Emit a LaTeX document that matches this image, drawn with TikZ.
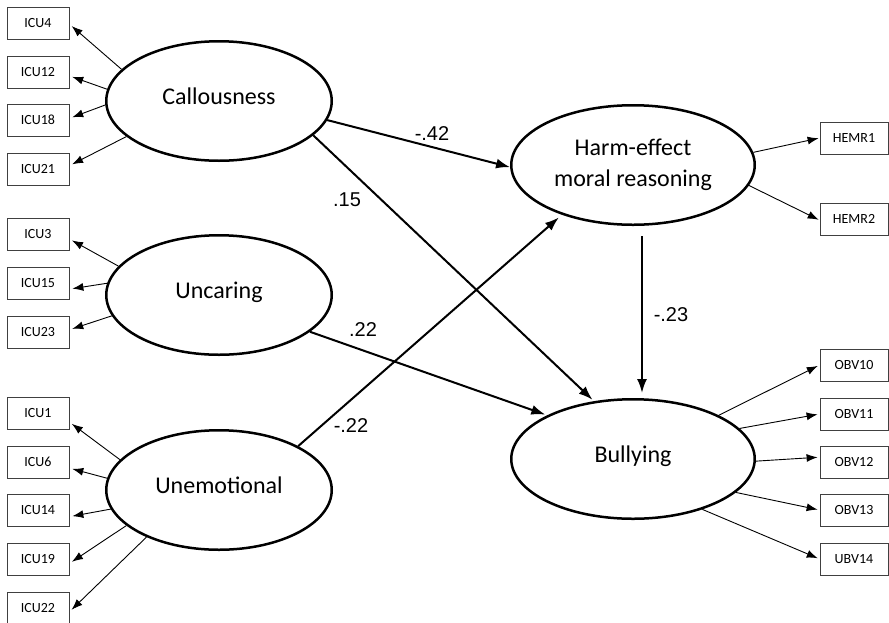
\documentclass[tikz,border=0pt]{standalone}
\usepackage{fontspec}
\setmainfont{Carlito}
\newfontfamily\coeffont{Liberation Sans}
\usetikzlibrary{
  arrows.meta,
  shapes.geometric
}

\begin{document}
\begin{tikzpicture}[
  x=1pt,
  y=-1pt,
  latent/.style={
    draw,
    ellipse,
    line width=2.5pt,
    minimum width=225.5pt,
    minimum height=119.5pt,
    inner sep=0pt,
    align=center,
    font=\fontsize{24}{31}\selectfont,
  },
  single/.style={
    text height=14pt,
    text depth=8pt,
  },
  obs/.style={
    draw=black!75,
    rectangle,
    line width=0.8pt,
    minimum width=62pt,
    minimum height=32pt,
    inner sep=0pt,
    font=\fontsize{14}{16}\selectfont,
  },
  wide/.style={
    obs,
    minimum width=68pt,
  },
  load/.style={
    ->,
    line width=0.9pt,
    shorten >=3pt,
  },
  effect/.style={
    -{Latex[length=14pt,width=10pt]},
    line width=2pt,
    shorten >=2pt,
  },
  coef/.style={
    inner sep=0pt,
    font=\coeffont\fontsize{20}{24}\selectfont,
  },
  >={Latex[length=11pt,width=8pt]}
]
\useasboundingbox (0,0) rectangle (889,622);

% Latent variables
\node[latent,single] (call) at (219,101) {Callousness};
\node[latent,single] (unc) at (219,295) {Uncaring};
\node[latent,single] (unemo) at (219,490) {Unemotional};
\node[latent,minimum width=243.5pt] (harm) at (633,165) {Harm-effect\\moral reasoning};
\node[latent,single,minimum width=243.5pt] (bully) at (633,459) {Bullying};

% Indicators
\foreach \n/\y in {4/23,12/72,18/120,21/169,3/234,15/283,23/332,1/413,6/462,14/510,19/559,22/608} {
  \node[obs] (icu\n) at (38,\y) {ICU\n};
}
\foreach \n/\y in {1/138,2/219} {
  \node[wide] (hemr\n) at (854,\y) {HEMR\n};
}
\foreach \n/\y in {10/365,11/414,12/462,13/510} {
  \node[wide] (obv\n) at (854,\y) {OBV\n};
}
\node[wide] (ubv14) at (854,559) {UBV14};

% Loadings
\foreach \n/\a/\b in {4/162/-2,12/174/-7,18/-178/3,21/-159/6} {
  \draw[load] (call.\a) -- (icu\n.\b);
}
\foreach \n/\a/\b in {3/164/-9,15/174/-11,23/-169/4} {
  \draw[load] (unc.\a) -- (icu\n.\b);
}
\foreach \n/\a/\b in {1/163/-16,6/174/-11,14/-170/-12,19/-159/-8,22/-147/-7} {
  \draw[load] (unemo.\a) -- (icu\n.\b);
}
\draw[load,shorten >=1pt] (harm.6) -- (hemr1.west);
\draw[load,shorten >=1pt] (harm.-10) -- (hemr2.182);
\foreach \n/\a/\b in {10/27/180,11/16/180,12/-1/172,13/-18/180} {
  \draw[load,shorten >=2pt] (bully.\a) -- (obv\n.\b);
}
\draw[load,shorten >=2pt] (bully.-36) -- (ubv14.west);

% Paths
\draw[effect,shorten >=0pt] (call.-10) -- (harm.181);
\draw[effect] (call.-20) -- (bully.124);
\draw[effect] (unc.-22) -- (bully.153);
\draw[effect,shorten >=4pt] (unemo.29) -- (harm.-145);
\draw[effect,shorten <=10pt,shorten >=5pt] ([xshift=9pt]harm.south) -- ([xshift=9pt]bully.north);

% Coefficients
\node[coef] (b42) at (432,134) {-.42};
\node[coef] (b15) at (347,200) {.15};
\node[coef] (b22) at (363,330) {.22};
\node[coef] (bm22) at (351,426) {-.22};
\node[coef] (b23) at (671,315) {-.23};

\end{tikzpicture}
\end{document}
